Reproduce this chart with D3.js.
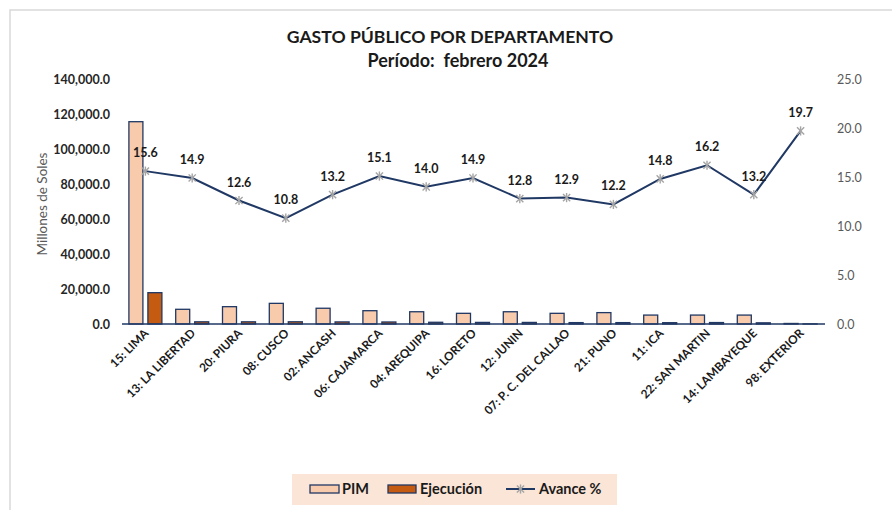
<!DOCTYPE html>
<html>
<head>
<meta charset="utf-8">
<script src="https://cdn.jsdelivr.net/npm/d3@7"></script>
<style>
  body { margin: 0; background: #fff; }
  svg { display: block; font-family: Lato, "Open Sans", sans-serif; }
</style>
</head>
<body>
<svg id="chart" width="892" height="510"></svg>
<script>
// datos
var departamentos = ["15: LIMA", "13: LA LIBERTAD", "20: PIURA", "08: CUSCO", "02: ANCASH",
    "06: CAJAMARCA", "04: AREQUIPA", "16: LORETO", "12: JUNIN", "07: P. C. DEL CALLAO",
    "21: PUNO", "11: ICA", "22: SAN MARTIN", "14: LAMBAYEQUE", "98: EXTERIOR"];
var pim = [115600, 8400, 9900, 11800, 9000, 7600, 7000, 6100, 7000, 6100, 6500, 5100, 5100, 5100, 300];
var ejecucion = [17900, 1250, 1250, 1270, 1190, 1150, 980, 910, 900, 790, 790, 750, 830, 670, 60];
var avance = [15.6, 14.9, 12.6, 10.8, 13.2, 15.1, 14.0, 14.9, 12.8, 12.9, 12.2, 14.8, 16.2, 13.2, 19.7];
var leftTicks = [0, 20000, 40000, 60000, 80000, 100000, 120000, 140000];
var rightTicks = [0, 5, 10, 15, 20, 25];

var navy = "#203864";
var svg = d3.select("#chart");

// borde del area del grafico
svg.append("rect").attr("x", 10).attr("y", 10).attr("width", 900).attr("height", 520)
    .attr("fill", "none").attr("stroke", "#D9D9D9").attr("stroke-width", 1.5);

// titulo
svg.append("text").attr("x", 450).attr("y", 43).attr("text-anchor", "middle")
    .attr("font-size", 17.6).attr("font-weight", "bold").attr("fill", "#1a1a1a")
    .text("GASTO PÚBLICO POR DEPARTAMENTO");
svg.append("text").attr("x", 458).attr("y", 67).attr("text-anchor", "middle")
    .attr("font-size", 18).attr("font-weight", "bold").attr("fill", "#1a1a1a")
    .attr("xml:space", "preserve")
    .text("Período:  febrero 2024");

var x = d3.scaleBand().domain(departamentos).range([122, 824]).paddingInner(0).paddingOuter(0);
var xSub = d3.scaleBand().domain(["pim", "ejec"])
    .range([x.bandwidth() / 2 - 16.5, x.bandwidth() / 2 + 16.5]).paddingInner(0.263);
var yL = d3.scaleLinear().domain([0, 140000]).range([324, 79]);
var yR = d3.scaleLinear().domain([0, 25]).range([324, 79]);

// eje izquierdo
var axL = svg.append("g").attr("transform", "translate(110,0)")
    .call(d3.axisLeft(yL).tickValues(leftTicks).tickSize(0).tickPadding(0)
        .tickFormat(function (d) { return d3.format(",.1f")(d); }));
axL.select(".domain").remove();
axL.selectAll("text").attr("font-size", 12.5).attr("font-weight", "bold")
    .attr("fill", "#262626").attr("font-family", "Lato, sans-serif");

// eje derecho
var axR = svg.append("g").attr("transform", "translate(837,0)")
    .call(d3.axisRight(yR).tickValues(rightTicks).tickSize(0).tickPadding(0)
        .tickFormat(d3.format(".1f")));
axR.select(".domain").remove();
axR.selectAll("text").attr("font-size", 12.5).attr("fill", "#595959")
    .attr("font-family", "Lato, sans-serif");

// titulo eje y
svg.append("text").attr("transform", "translate(47,204) rotate(-90)")
    .attr("text-anchor", "middle").attr("font-size", 13.5).attr("fill", "#595959")
    .text("Millones de Soles");

// barras
var groups = svg.append("g").selectAll("g").data(departamentos).enter().append("g")
    .attr("transform", function (d) { return "translate(" + x(d) + ",0)"; });
groups.append("rect")
    .attr("x", xSub("pim")).attr("width", xSub.bandwidth())
    .attr("y", function (d, i) { return yL(pim[i]); })
    .attr("height", function (d, i) { return yL(0) - yL(pim[i]); })
    .attr("fill", "#F8CBAD").attr("stroke", navy).attr("stroke-width", 1.3);
groups.append("rect")
    .attr("x", xSub("ejec")).attr("width", xSub.bandwidth())
    .attr("y", function (d, i) { return yL(ejecucion[i]); })
    .attr("height", function (d, i) { return yL(0) - yL(ejecucion[i]); })
    .attr("fill", "#C55A11").attr("stroke", navy).attr("stroke-width", 1.3);

// linea base
svg.append("line").attr("x1", 122).attr("x2", 825).attr("y1", 324).attr("y2", 324)
    .attr("stroke", navy).attr("stroke-width", 1.5);

// etiquetas eje x
svg.append("g").selectAll("text").data(departamentos).enter().append("text")
    .attr("transform", function (d) {
        return "translate(" + (x(d) + x.bandwidth() / 2 + 4) + ",334) rotate(-45)";
    })
    .attr("text-anchor", "end").attr("font-size", 11.8).attr("font-weight", "bold")
    .attr("fill", "#1a1a1a").text(function (d) { return d; });

// linea de avance
var cx = function (d, i) { return x(departamentos[i]) + x.bandwidth() / 2; };
var line = d3.line().x(function (d, i) { return cx(d, i); }).y(function (d) { return yR(d); });
svg.append("path").datum(avance).attr("d", line)
    .attr("fill", "none").attr("stroke", navy).attr("stroke-width", 2);

function asterisk(g, s) {
    g.append("line").attr("x1", -s).attr("y1", -s).attr("x2", s).attr("y2", s);
    g.append("line").attr("x1", -s).attr("y1", s).attr("x2", s).attr("y2", -s);
    g.append("line").attr("x1", 0).attr("y1", -s - 1).attr("x2", 0).attr("y2", s + 1);
}
var marks = svg.append("g").selectAll("g").data(avance).enter().append("g")
    .attr("transform", function (d, i) { return "translate(" + cx(d, i) + "," + yR(d) + ")"; })
    .attr("stroke", "#A5A5A5").attr("stroke-width", 1.4);
marks.each(function () { asterisk(d3.select(this), 3.6); });

svg.append("g").selectAll("text").data(avance).enter().append("text")
    .attr("x", function (d, i) { return cx(d, i); })
    .attr("y", function (d) { return yR(d) - 14; })
    .attr("text-anchor", "middle").attr("font-size", 12.5).attr("font-weight", "bold")
    .attr("fill", "#1a1a1a").text(function (d) { return d.toFixed(1); });

// leyenda
var lg = svg.append("g");
lg.append("rect").attr("x", 292).attr("y", 474).attr("width", 325).attr("height", 31)
    .attr("fill", "#FBE5D6");
lg.append("rect").attr("x", 310).attr("y", 485).attr("width", 29).attr("height", 8)
    .attr("fill", "#F8CBAD").attr("stroke", navy).attr("stroke-width", 1.3);
lg.append("text").attr("x", 342).attr("y", 494).attr("font-size", 14.5).attr("font-weight", "bold")
    .attr("fill", "#1a1a1a").text("PIM");
lg.append("rect").attr("x", 388).attr("y", 485).attr("width", 28).attr("height", 8)
    .attr("fill", "#C55A11").attr("stroke", navy).attr("stroke-width", 1.3);
lg.append("text").attr("x", 420).attr("y", 494).attr("font-size", 14.5).attr("font-weight", "bold")
    .attr("fill", "#1a1a1a").text("Ejecución");
lg.append("line").attr("x1", 506).attr("x2", 535).attr("y1", 489).attr("y2", 489)
    .attr("stroke", navy).attr("stroke-width", 2);
var lm = lg.append("g").attr("transform", "translate(520.5,489)")
    .attr("stroke", "#A5A5A5").attr("stroke-width", 1.4);
asterisk(lm, 3.6);
lg.append("text").attr("x", 539).attr("y", 494).attr("font-size", 14.5).attr("font-weight", "bold")
    .attr("fill", "#1a1a1a").text("Avance %");
</script>
</body>
</html>
